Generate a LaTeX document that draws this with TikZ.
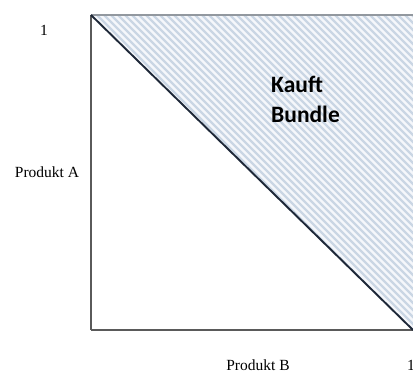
\documentclass[tikz,border=0pt]{standalone}
\usepackage{fontspec}
\setmainfont{Liberation Serif}
\newfontfamily\labelsans{Carlito}
\definecolor{hatchbg}{HTML}{F5F7FB}
\definecolor{hatchln}{HTML}{CAD6E4}
\definecolor{axisgray}{HTML}{5A5A5A}
\definecolor{diagdark}{HTML}{1E2838}
\begin{document}
\begin{tikzpicture}[x=1pt,y=1pt,
  axisline/.style={draw=axisgray,line width=1.8pt},
  diagline/.style={draw=diagdark,line width=1.9pt},
  serlabel/.style={font=\fontsize{15.5}{18}\selectfont,inner sep=0pt},
  bundlelabel/.style={font=\labelsans\bfseries\fontsize{23.5}{30}\selectfont,align=left,inner sep=0pt,anchor=north west}]
\useasboundingbox (0,0) rectangle (413,374);
\coordinate (tl) at (91,359);
\coordinate (bl) at (91,44);
\coordinate (br) at (413,44);
\coordinate (tr) at (413,359);
% hatched region
\fill[hatchbg] (tl) -- (tr) -- (br) -- cycle;
\begin{scope}
  \clip (tl) -- (tr) -- (br) -- cycle;
  \foreach \i in {0,7,...,665} {
    \draw[hatchln,line width=2.4pt] (91-330+\i,359) -- ++(400,-400);
  }
\end{scope}
% axes
\draw[axisline,draw=hatchln!50!axisgray,line width=1.6pt] (tl) -- (tr);
\draw[axisline] (bl) -- (tl);
\draw[axisline] (bl) -- (br);
\draw[diagline] (tl) -- (br);
% labels
\node[serlabel] (one_a) at (44,344) {1};
\node[serlabel] (prod_a) at (47,202) {Produkt A};
\node[serlabel] (prod_b) at (258,9) {Produkt B};
\node[serlabel] (one_b) at (411,9) {1};
\node[bundlelabel] (bundle) at (271,298) {Kauft\\Bundle};
\end{tikzpicture}
\end{document}
